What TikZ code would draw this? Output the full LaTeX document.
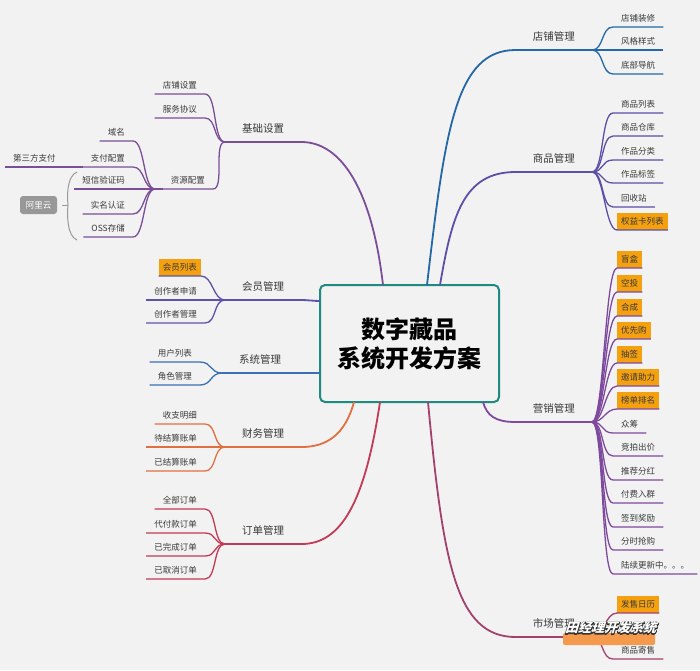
\documentclass[tikz,border=0pt]{standalone}
\usepackage{fontspec}
\setmainfont{Noto Sans CJK SC}
\usetikzlibrary{calc}
\definecolor{bg}{HTML}{F2F2F2}
\definecolor{txt}{HTML}{3A3A3A}
\definecolor{hlorange}{HTML}{F5A00F}
\definecolor{teal}{HTML}{1F8A80}
\definecolor{cjc}{HTML}{7A4F97}
\definecolor{chy}{HTML}{5E52A8}
\definecolor{cxt}{HTML}{3A6FB2}
\definecolor{ccw}{HTML}{E0703F}
\definecolor{cdd}{HTML}{C23A55}
\definecolor{cdp}{HTML}{2468A8}
\definecolor{csp}{HTML}{5D4FA6}
\definecolor{cyx}{HTML}{7E4A9E}
\definecolor{csc}{HTML}{A3416E}
\definecolor{wmorange}{HTML}{F59A4C}
\tikzset{
  kid/.style={font=\fontsize{8.5}{10}\selectfont, text=txt, inner xsep=8pt, inner ysep=4.5pt, text height=7.5pt, text depth=1pt},
  kidR/.style={kid, anchor=south west},
  kidL/.style={kid, anchor=south east},
  hl/.style={kid, fill=hlorange, inner xsep=4pt, inner ysep=4pt},
  mainlab/.style={font=\fontsize{10.5}{12}\selectfont, text=txt, inner xsep=17pt, inner ysep=7.5pt, text height=9pt, text depth=1.5pt},
  br/.style={line width=1.8pt},
  sub/.style={line width=1.3pt},
}
\newcommand\rkid[5]{%
  \node[kidR] (#1) at (#3) {#4};
  \draw[sub,#5] (#2) .. controls +(12,0) and +(-12,0) .. (#1.south west) -- (#1.south east);}
\newcommand\lkid[5]{%
  \node[kidL] (#1) at (#3) {#4};
  \draw[sub,#5] (#2) .. controls +(-12,0) and +(12,0) .. (#1.south east) -- (#1.south west);}
\newcommand\rbox[5]{%
  \node[hl, anchor=south west] (#1) at (#3) {#4};
  \draw[sub,#5] (#2) .. controls +(12,0) and +(-12,0) .. (#1.south west) -- (#1.south east);}
\begin{document}
\begin{tikzpicture}[x=1pt,y=-1pt]
\useasboundingbox (0,0) rectangle (700,670);
\fill[bg] (0,0) rectangle (700,670);

% centre
\node[draw=teal, line width=2pt, rounded corners=5pt, fill=bg, minimum width=179pt, minimum height=117pt,
      align=center, font=\fontsize{24}{29}\selectfont\bfseries, text=black] (ct) at (409.5,343.5) {数字藏品\\系统开发方案};

% attach points on the centre box
\coordinate (ajc) at (383,285);
\coordinate (adp) at (427,285);
\coordinate (asp) at (440,285);
\coordinate (ahy) at (320,301);
\coordinate (axt) at (320,373);
\coordinate (acw) at (354,402);
\coordinate (add) at (380,402);
\coordinate (asc) at (428,402);
\coordinate (ayx) at (483,402);

% junctions
\coordinate (Jjc) at (225,142);
\coordinate (Jzy) at (155,189);
\coordinate (Jhy) at (225,300);
\coordinate (Jxt) at (222,373);
\coordinate (Jcw) at (225,447);
\coordinate (Jdd) at (225,544);
\coordinate (Jdp) at (592,50);
\coordinate (Jsp) at (592,172);
\coordinate (Jyx) at (592,422);
\coordinate (Jsc) at (592,637);

% ---------- main branches, left
\node[mainlab, anchor=south west] (jc) at (Jjc) {基础设置};
\draw[br,cjc] (ajc) .. controls +(-11,-95) and +(40,0) .. (jc.south east) -- (jc.south west);
\node[mainlab, anchor=south west] (hy) at (Jhy) {会员管理};
\draw[br,chy] (ahy) .. controls +(-6,0) and +(6,0) .. (hy.south east) -- (hy.south west);
\node[mainlab, anchor=south west] (xt) at (Jxt) {系统管理};
\draw[br,cxt] (axt) -- (xt.south east) -- (xt.south west);
\node[mainlab, anchor=south west] (cw) at (Jcw) {财务管理};
\draw[br,ccw] (acw) .. controls +(-9,33) and +(25,0) .. (cw.south east) -- (cw.south west);
\node[mainlab, anchor=south west] (dd) at (Jdd) {订单管理};
\draw[br,cdd] (add) .. controls +(-15,100) and +(40,0) .. (dd.south east) -- (dd.south west);

% ---------- main branches, right
\node[mainlab, anchor=south east] (dp) at (Jdp) {店铺管理};
\draw[br,cdp] (adp) .. controls +(18,-155) and +(-60,0) .. (dp.south west) -- (dp.south east);
\node[mainlab, anchor=south east] (sp) at (Jsp) {商品管理};
\draw[br,csp] (asp) .. controls +(12,-70) and +(-52,0) .. (sp.south west) -- (sp.south east);
\node[mainlab, anchor=south east] (yx) at (Jyx) {营销管理};
\draw[br,cyx] (ayx) .. controls +(4,14) and +(-20,0) .. (yx.south west) -- (yx.south east);
\node[mainlab, anchor=south east] (sc) at (Jsc) {市场管理};
\draw[br,csc] (asc) .. controls +(15,160) and +(-60,0) .. (sc.south west) -- (sc.south east);

% ---------- 基础设置
\lkid{jc1}{Jjc}{205,94}{店铺设置}{cjc}
\lkid{jc2}{Jjc}{205,118}{服务协议}{cjc}
\lkid{jc3}{Jjc}{213,189}{资源配置}{cjc}
\draw[sub,cjc] (Jzy) -- (jc3.south west);
\lkid{zy1}{Jzy}{133,141}{域名}{cjc}
\lkid{zy2}{Jzy}{133,167}{支付配置}{cjc}
\lkid{zy3}{Jzy}{133,189}{短信验证码}{cjc}
\lkid{zy4}{Jzy}{133,214}{实名认证}{cjc}
\lkid{zy5}{Jzy}{133,237}{OSS存储}{cjc}
\node[kidR] (zf) at (5,167) {第三方支付};
\draw[sub,cjc] (zf.south west) -- (zy2.south west);
% 阿里云 group
\node[fill=gray!85!black!70, text=white, rounded corners=3pt, minimum width=37pt, minimum height=18pt,
      inner sep=0pt, font=\fontsize{8.5}{10}\selectfont] (aly) at (38.5,205) {阿里云};
\coordinate (brt) at (77,172);
\coordinate (brm) at (68,205);
\coordinate (brb) at (77,240);
\draw[gray!80, line width=1pt] (brt) .. controls (67,176) and (67,195) .. (brm) .. controls (67,215) and (67,236) .. (brb);
\draw[gray!80, line width=1pt] ($(aly.east)+(5,0)$) -- (brm);

% ---------- 会员管理
\node[hl, anchor=south east] (hy1) at (201,276) {会员列表};
\draw[sub,chy] (Jhy) .. controls +(-12,0) and +(12,0) .. (hy1.south east) -- (hy1.south west);
\lkid{hy2}{Jhy}{205,300}{创作者申请}{chy}
\lkid{hy3}{Jhy}{205,323}{创作者管理}{chy}

% ---------- 系统管理
\lkid{xt1}{Jxt}{200,362}{用户列表}{cxt}
\lkid{xt2}{Jxt}{200,385}{角色管理}{cxt}

% ---------- 财务管理
\lkid{cw1}{Jcw}{205,424}{收支明细}{ccw}
\lkid{cw2}{Jcw}{205,447}{待结算账单}{ccw}
\lkid{cw3}{Jcw}{205,471}{已结算账单}{ccw}

% ---------- 订单管理
\lkid{dd1}{Jdd}{205,509}{全部订单}{cdd}
\lkid{dd2}{Jdd}{205,533}{代付款订单}{cdd}
\lkid{dd3}{Jdd}{205,556}{已完成订单}{cdd}
\lkid{dd4}{Jdd}{205,579}{已取消订单}{cdd}

% ---------- 店铺管理
\rkid{dp1}{Jdp}{613,27}{店铺装修}{cdp}
\rkid{dp2}{Jdp}{613,50}{风格样式}{cdp}
\rkid{dp3}{Jdp}{613,74}{底部导航}{cdp}

% ---------- 商品管理
\rkid{sp1}{Jsp}{613,113}{商品列表}{csp}
\rkid{sp2}{Jsp}{613,136}{商品仓库}{csp}
\rkid{sp3}{Jsp}{613,160}{作品分类}{csp}
\rkid{sp4}{Jsp}{613,183}{作品标签}{csp}
\rkid{sp5}{Jsp}{613,207}{回收站}{csp}
\rbox{sp6}{Jsp}{617,230}{权益卡列表}{csp}

% ---------- 营销管理
\rbox{yx1}{Jyx}{617,268}{盲盒}{cyx}
\rbox{yx2}{Jyx}{617,292}{空投}{cyx}
\rbox{yx3}{Jyx}{617,316}{合成}{cyx}
\rbox{yx4}{Jyx}{617,339}{优先购}{cyx}
\rbox{yx5}{Jyx}{617,363}{抽签}{cyx}
\rbox{yx6}{Jyx}{617,386}{邀请助力}{cyx}
\rbox{yx7}{Jyx}{617,409}{榜单排名}{cyx}
\rkid{yx8}{Jyx}{613,433}{众筹}{cyx}
\rkid{yx9}{Jyx}{613,456}{竞拍出价}{cyx}
\rkid{yx10}{Jyx}{613,480}{推荐分红}{cyx}
\rkid{yx11}{Jyx}{613,503}{付费入群}{cyx}
\rkid{yx12}{Jyx}{613,527}{签到奖励}{cyx}
\rkid{yx13}{Jyx}{613,550}{分时抢购}{cyx}
\rkid{yx14}{Jyx}{613,574}{陆续更新中。。。}{cyx}

% ---------- 市场管理
\rbox{sc1}{Jsc}{617,613}{发售日历}{csc}
\rkid{sc2}{Jsc}{613,659}{商品寄售}{csc}

% ---------- watermark (white text over a dark outline)
\fill[wmorange, rounded corners=2pt] (563,633) rectangle (655,645);
\begin{scope}[shift={(612,628)}]
  \node[xslant=0.3, transform shape, font=\fontsize{13}{13}\selectfont\bfseries, text=white] (wm) at (0,0)
    {\special{pdf:literal direct 0.2 G 1 Tr 1.6 w 1 j}\rlap{田经理开发系统}\special{pdf:literal direct 0 Tr}田经理开发系统};
\end{scope}
\end{tikzpicture}
\end{document}
